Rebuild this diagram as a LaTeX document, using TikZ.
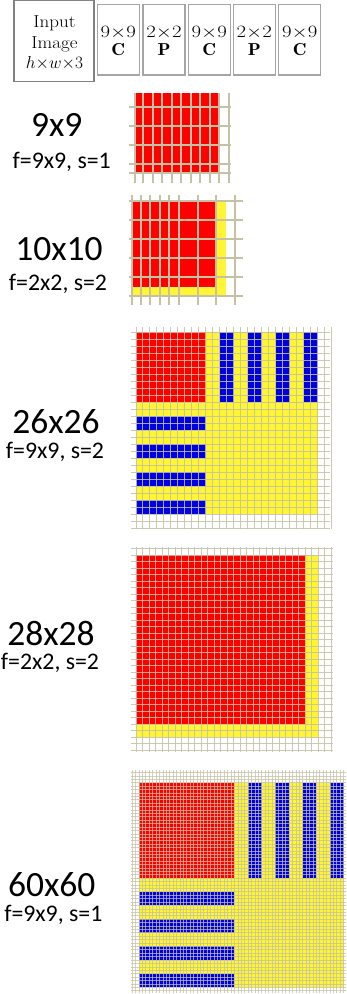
\documentclass[tikz,border=0pt]{standalone}
\usepackage{fontspec}
\newfontfamily\lab{Carlito}
\definecolor{gridc}{RGB}{196,193,164}
\definecolor{cred}{RGB}{255,0,0}
\definecolor{cyel}{RGB}{255,245,50}
\definecolor{cblue}{RGB}{0,0,225}
\definecolor{boxg}{RGB}{130,130,130}
\definecolor{boxl}{RGB}{165,165,165}
\begin{document}
\begin{tikzpicture}[x=1pt,y=-1pt,
  big/.style={font=\lab\fontsize{35.5}{40}\selectfont, anchor=base, inner sep=0},
  small/.style={font=\lab\fontsize{23.8}{28}\selectfont, anchor=base, inner sep=0},
  hdr/.style={font=\fontsize{17.28}{20}\selectfont, anchor=base, inner sep=0},
  inbox/.style={draw=boxg, line width=1.4, minimum width=80, minimum height=81, inner sep=0},
  opbox/.style={draw=boxl, line width=1.3, minimum width=42, minimum height=70.7, inner sep=0},
  gA/.style={draw=gridc, line width=1.7},
  gB/.style={draw=gridc, line width=1.0, opacity=0.85},
  gC/.style={draw=gridc, line width=0.7, opacity=0.75}]
\useasboundingbox (0,0) rectangle (346,994);
% ---------- header ----------
\node[inbox] (inp) at (54,41.2) {};
\node[hdr] (t1) at (54.5,27) {\scalebox{1.1}[1]{Input}};
\node[hdr] (t2) at (54.5,48) {\scalebox{1.1}[1]{Image}};
\node[hdr] (t3) at (54.5,68) {$h{\times}w{\times}3$};
\node[opbox] (b1) at (118.2,39.65) {};
\node[opbox] (b2) at (164,39.65) {};
\node[opbox] (b3) at (209.3,39.65) {};
\node[opbox] (b4) at (254.3,39.65) {};
\node[opbox] (b5) at (299.7,39.65) {};
\node[hdr] (s1) at (118.2,37) {\scalebox{1.2}[1]{$9{\times}9$}};
\node[hdr] (s2) at (164,37) {\scalebox{1.2}[1]{$2{\times}2$}};
\node[hdr] (s3) at (209.3,37) {\scalebox{1.2}[1]{$9{\times}9$}};
\node[hdr] (s4) at (254.3,37) {\scalebox{1.2}[1]{$2{\times}2$}};
\node[hdr] (s5) at (299.7,37) {\scalebox{1.2}[1]{$9{\times}9$}};
\node[hdr] (c1) at (118.2,55) {\scalebox{1.1}[1]{$\mathbf{C}$}};
\node[hdr] (c2) at (164,55) {\scalebox{1.1}[1]{$\mathbf{P}$}};
\node[hdr] (c3) at (209.3,55) {\scalebox{1.1}[1]{$\mathbf{C}$}};
\node[hdr] (c4) at (254.3,55) {\scalebox{1.1}[1]{$\mathbf{P}$}};
\node[hdr] (c5) at (299.7,55) {\scalebox{1.1}[1]{$\mathbf{C}$}};
% ---------- labels ----------
\node[big] (L1) at (56.7,136.7) {9x9};
\node[small] (l1) at (61.7,168.5) {f=9x9, s=1};
\node[big] (L2) at (59,260) {10x10};
\node[small] (l2) at (58,290.5) {f=2x2, s=2};
\node[big] (L3) at (56,433.3) {26x26};
\node[small] (l3) at (55,458) {f=9x9, s=2};
\node[big] (L4) at (51,645) {28x28};
\node[small] (l4) at (50,669.5) {f=2x2, s=2};
\node[big] (L5) at (51.7,896) {60x60};
\node[small] (l5) at (53.3,921.5) {f=9x9, s=1};
% ---------- panel 1: 9x9 ----------
\fill[cred] (134.7,93) rectangle (219.3,173.3);
\foreach \x in {134.7,143.3,153.3,162.3,172.3,181.3,191.3,200.3,210.3,219.3,229.3}
  \draw[gA] (\x,93) -- (\x,183);
\foreach \y in {107.3,126.3,145.3,164.3,173.3}
  \draw[gA] (129,\y) -- (230.7,\y);
% ---------- panel 2: 10x10 ----------
\fill[cyel] (131.7,201.7) rectangle (226,296.3);
\fill[cred] (131.7,201.7) rectangle (216.3,287);
\foreach \x in {131.7,140.7,150.3,159.7,169.3,178.7,197.7,216.3,235.3}
  \draw[gA] (\x,195) -- (\x,305);
\foreach \y in {201.3,220.3,239.3,258.3,277.3,296.3}
  \draw[gA] (129,\y) -- (243,\y);
% ---------- panel 3: 26x26 ----------
\fill[cyel] (136,332.3) rectangle ++(181.74,181.74);
\fill[cred] (136,332.3) rectangle ++(69.9,69.9);
\foreach \k in {12,16,20,24} {
  \fill[cblue] ({136+\k*6.99},332.3) rectangle ++(13.98,69.9);
  \fill[cblue] (136,{332.3+\k*6.99}) rectangle ++(69.9,13.98);
}
\foreach \i in {0,...,28}
  \draw[gB] ({136+\i*6.99},327) -- ({136+\i*6.99},529);
\foreach \j in {0,...,28}
  \draw[gB] (131,{332.3+\j*6.99}) -- (330,{332.3+\j*6.99});
% ---------- panel 4: 28x28 ----------
\fill[cyel] (136,555.3) rectangle ++(182,182);
\fill[cred] (136,555.3) rectangle ++(169,169);
\foreach \i in {0,...,30}
  \draw[gB] ({136+\i*6.5},547) -- ({136+\i*6.5},752);
\foreach \j in {-1,...,30}
  \draw[gB] (131,{555.3+\j*6.5}) -- (333,{555.3+\j*6.5});
% ---------- panel 5: 60x60 ----------
\begin{scope}
\clip (0,0) rectangle (346,994);
\fill[cyel] (139,782.7) rectangle ++(204.6,204.6);
\fill[cred] (139,782.7) rectangle ++(95.48,95.48);
\foreach \k in {32,40,48,56} {
  \fill[cblue] ({139+\k*3.41},782.7) rectangle ++(13.64,95.48);
  \fill[cblue] (139,{782.7+\k*3.41}) rectangle ++(95.48,13.64);
}
\foreach \i in {-2,...,62}
  \draw[gC] ({139+\i*3.41},770) -- ({139+\i*3.41},993);
\foreach \j in {-3,...,61}
  \draw[gC] (131,{782.7+\j*3.41}) -- (346,{782.7+\j*3.41});
\end{scope}
\end{tikzpicture}
\end{document}
